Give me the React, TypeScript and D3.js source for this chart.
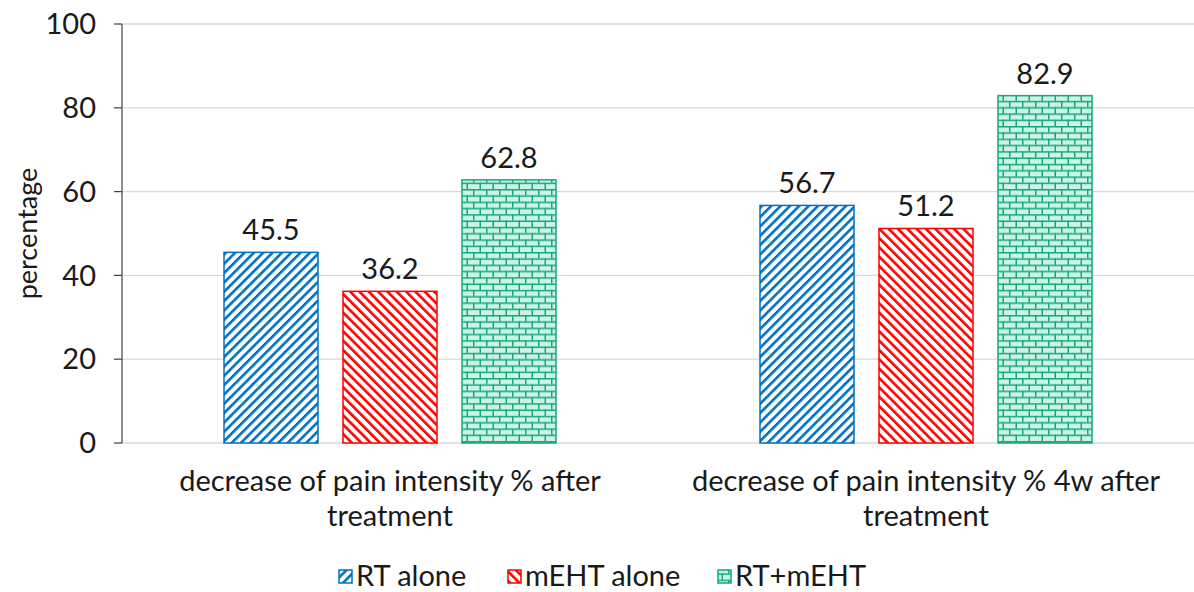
import * as d3 from "d3";

const categories = [
  ["decrease of pain intensity % after", "treatment"],
  ["decrease of pain intensity % 4w after", "treatment"],
];
const seriesNames = ["RT alone", "mEHT alone", "RT+mEHT"];
const rtAlone = [45.5, 56.7];
const mehtAlone = [36.2, 51.2];
const rtMeht = [62.8, 82.9];
const yTicks = [0, 20, 40, 60, 80, 100];

const colors = ["#0070c0", "#ff0000", "#13a97c"];
const patternIds = ["pat-blue", "pat-red", "pat-green"];
const font = "Lato, 'Open Sans', sans-serif";

export default function App() {
  const width = 1194;
  const height = 592;
  const margin = { top: 24, right: 0, bottom: 149, left: 122 };
  const series = [rtAlone, mehtAlone, rtMeht];

  const x0 = d3
    .scaleBand<number>()
    .domain(categories.map((_, i) => i))
    .range([margin.left, width - margin.right])
    .paddingInner(0)
    .paddingOuter(0);
  const x1 = d3
    .scaleBand<number>()
    .domain(seriesNames.map((_, i) => i))
    .range([102, x0.bandwidth() - 102])
    .paddingInner(0.21);
  const y = d3
    .scaleLinear()
    .domain([0, 100])
    .range([height - margin.bottom, margin.top]);

  // legend swatch positions
  const legendX = [339, 508, 718];

  return (
    <svg
      width={width}
      height={height}
      style={{ position: "absolute", left: 0, top: 0, background: "#fff" }}
    >
      <defs>
        <pattern
          id="pat-blue"
          patternUnits="userSpaceOnUse"
          width={6.6}
          height={6.6}
          patternTransform="rotate(45)"
        >
          <rect width={6.6} height={6.6} fill="#fff" />
          <rect x={0} y={0} width={2.6} height={6.6} fill={colors[0]} />
        </pattern>
        <pattern
          id="pat-red"
          patternUnits="userSpaceOnUse"
          width={6.6}
          height={6.6}
          patternTransform="rotate(-45)"
        >
          <rect width={6.6} height={6.6} fill="#fff" />
          <rect x={0} y={0} width={2.6} height={6.6} fill={colors[1]} />
        </pattern>
        <pattern
          id="pat-green"
          patternUnits="userSpaceOnUse"
          width={13}
          height={12.6}
        >
          <rect width={13} height={12.6} fill="#cdf3e7" />
          <line x1={0} x2={13} y1={0.75} y2={0.75} stroke={colors[2]} strokeWidth={1.5} />
          <line x1={0} x2={13} y1={7.05} y2={7.05} stroke={colors[2]} strokeWidth={1.5} />
          <line x1={0.75} x2={0.75} y1={0} y2={6.3} stroke={colors[2]} strokeWidth={1.5} />
          <line x1={7.25} x2={7.25} y1={6.3} y2={12.6} stroke={colors[2]} strokeWidth={1.5} />
        </pattern>
      </defs>

      {/* gridlines */}
      {yTicks.map((t) => (
        <line
          key={t}
          x1={margin.left}
          x2={width}
          y1={y(t)}
          y2={y(t)}
          stroke="#d9d9d9"
          strokeWidth={1.3}
        />
      ))}

      {/* y axis */}
      <line
        x1={margin.left}
        x2={margin.left}
        y1={y(100)}
        y2={y(0)}
        stroke="#404040"
        strokeWidth={1.2}
      />
      {yTicks.map((t) => (
        <g key={t}>
          <line
            x1={margin.left - 8}
            x2={margin.left}
            y1={y(t)}
            y2={y(t)}
            stroke="#404040"
            strokeWidth={1.2}
          />
          <text
            x={96}
            y={y(t)}
            dy="0.35em"
            textAnchor="end"
            fontFamily={font}
            fontSize={29}
            fill="#1a1a1a"
          >
            {t}
          </text>
        </g>
      ))}
      <text
        transform={`translate(28,${(y(0) + y(100)) / 2}) rotate(-90)`}
        textAnchor="middle"
        dy="0.35em"
        fontFamily={font}
        fontSize={27}
        fill="#1a1a1a"
      >
        percentage
      </text>

      {/* bars */}
      {categories.map((cat, ci) => (
        <g key={ci} transform={`translate(${x0(ci)},0)`}>
          {series.map((vals, si) => {
            const bx = x1(si) as number;
            const bw = x1.bandwidth();
            const top = y(vals[ci]);
            return (
              <g key={si}>
                <rect
                  x={bx}
                  y={top}
                  width={bw}
                  height={y(0) - top}
                  fill={`url(#${patternIds[si]})`}
                  stroke={colors[si]}
                  strokeWidth={1.5}
                />
                <text
                  x={bx + bw / 2}
                  y={top - 12}
                  textAnchor="middle"
                  fontFamily={font}
                  fontSize={29}
                  fill="#1a1a1a"
                >
                  {vals[ci].toFixed(1)}
                </text>
              </g>
            );
          })}
          {cat.map((line, li) => (
            <text
              key={li}
              x={x0.bandwidth() / 2}
              y={491 + li * 35}
              textAnchor="middle"
              fontFamily={font}
              fontSize={29}
              fill="#1a1a1a"
            >
              {line}
            </text>
          ))}
        </g>
      ))}

      {/* legend */}
      {seriesNames.map((name, si) => (
        <g key={name}>
          <rect
            x={legendX[si]}
            y={570}
            width={13}
            height={13}
            fill={`url(#${patternIds[si]})`}
            stroke={colors[si]}
            strokeWidth={1.5}
          />
          <text
            x={legendX[si] + 17}
            y={576}
            dy="0.35em"
            fontFamily={font}
            fontSize={29}
            fill="#1a1a1a"
          >
            {name}
          </text>
        </g>
      ))}
    </svg>
  );
}
